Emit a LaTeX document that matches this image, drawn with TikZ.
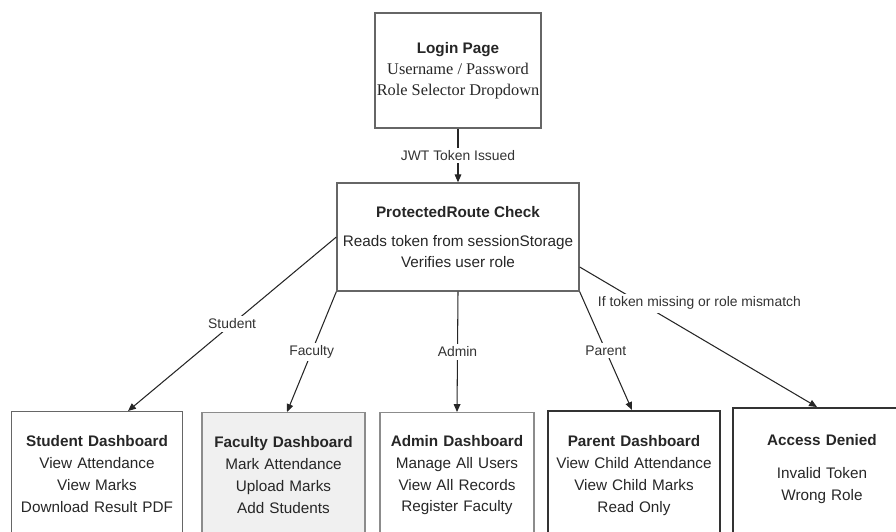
\documentclass[tikz,border=0pt]{standalone}
\usepackage{fontspec}
\setmainfont{Liberation Sans}
\newfontfamily\loginfont{Liberation Serif}
\usetikzlibrary{arrows.meta}

\begin{document}
\begin{tikzpicture}[x=0.02cm, y=-0.02cm,
    box/.style={draw=black!60, line width=0.8pt, align=center, text=black!85,
        font=\fontsize{8.7}{12}\selectfont},
    dashbox/.style={box, anchor=north, inner xsep=0pt, inner ysep=0pt,
        text height=19.6pt, text depth=80pt, font=\fontsize{8.7}{12.5}\selectfont},
    flow/.style={-{Triangle[length=4.5pt,width=3.8pt]}, line width=0.6pt, black!85},
    tag/.style={fill=white, inner sep=1.5pt, text=black!80,
        font=\fontsize{7.9}{10}\selectfont}]
    \useasboundingbox (0,0) rectangle (896,531);
    % Login
    \node[box, minimum width=3.32cm, minimum height=2.3cm, inner xsep=0.5pt] (login) at (458,70.5)
        {\textbf{Login Page}\\ {\loginfont\fontsize{9.3}{12}\selectfont Username / Password}\\
         {\loginfont\fontsize{9.3}{12}\selectfont Role Selector Dropdown}};
    % Route check
    \node[box, minimum width=4.8cm, minimum height=2.16cm] (route) at (458,237)
        {\textbf{ProtectedRoute Check}\\[4.5pt] Reads token from sessionStorage\\ Verifies user role};
    % Dashboards
    \node[dashbox, text width=3.42cm] (student) at (97,411)
        {\textbf{Student Dashboard}\\ View Attendance\\ View Marks\\ Download Result PDF};
    \node[dashbox, text width=3.26cm, fill=black!6, draw=black!45] (faculty) at (283.5,412)
        {\textbf{Faculty Dashboard}\\ Mark Attendance\\ Upload Marks\\ Add Students};
    \node[dashbox, text width=3.08cm, draw=black!45, text height=19pt] (admin) at (457,412)
        {\textbf{Admin Dashboard}\\ Manage All Users\\ View All Records\\ Register Faculty};
    \node[dashbox, text width=3.44cm, draw=black!80, line width=1.3pt, text height=20.2pt] (parent) at (634,410)
        {\textbf{Parent Dashboard}\\ View Child Attendance\\ View Child Marks\\ Read Only};
    \node[dashbox, text width=3.56cm, draw=black!80, line width=1.1pt, text height=21.6pt] (denied) at (822,407)
        {\textbf{Access Denied}\\[6pt] Invalid Token\\ Wrong Role};
    % Arrows
    \draw[flow] (login) -- node[tag] {JWT Token Issued} (route);
    \draw[flow] (route.west) -- node[tag] {Student} ([xshift=0.62cm]student.north);
    \draw[flow] (route.south west) -- node[tag] {Faculty} ([xshift=0.07cm]faculty.north);
    \draw[flow] (route.south) -- node[tag] {Admin} (admin.north);
    \draw[flow] (route.south east) -- node[tag] {Parent} ([xshift=-0.04cm]parent.north);
    \draw[flow] ([yshift=-0.6cm]route.east) -- node[tag, pos=0.26, xshift=1.16cm]
        {If token missing or role mismatch} ([xshift=-0.1cm]denied.north);
\end{tikzpicture}
\end{document}
